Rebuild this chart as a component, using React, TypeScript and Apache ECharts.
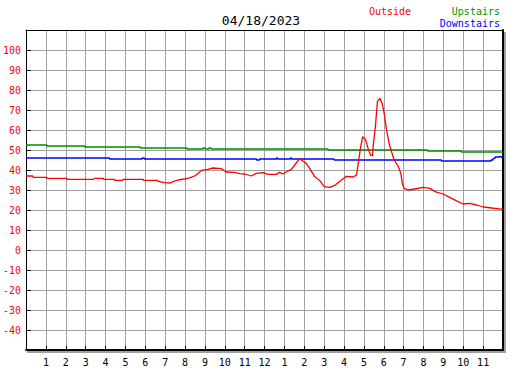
import React, { useEffect, useRef } from "react";
import * as echarts from "echarts";

const TITLE = "04/18/2023";
const HOUR_LABELS = ["1","2","3","4","5","6","7","8","9","10","11","12","1","2","3","4","5","6","7","8","9","10","11"];

const upstairsHours = [0, 1.05, 2.95, 5.75, 8.1, 8.9, 9.0, 9.2, 9.3, 15.2, 20.2, 21.9, 24];
const upstairsTemps = [52.5, 52, 51.5, 51, 50.5, 51, 50.5, 51, 50.5, 50, 49.5, 49, 49];

const downstairsHours = [0, 4.2, 5.85, 5.95, 11.6, 11.75, 12.6, 12.65, 13.3, 13.35, 15.5, 20.9, 23.3, 23.4, 23.5, 23.6, 23.75, 23.9, 24];
const downstairsTemps = [46, 45.5, 46, 45.5, 45, 45.5, 46, 45.5, 46, 45.5, 45, 44.5, 44.5, 45, 45.8, 46.5, 46.8, 46.3, 45.8];

const outsideHours = [0, 0.33, 0.35, 1.05, 1.06, 2.05, 2.06, 3.4, 3.45, 3.9, 3.91, 4.45, 4.46, 4.87, 4.88, 5.9, 5.91, 6.63, 6.64, 6.97, 7.27, 7.39, 7.64, 8.14, 8.48, 8.65, 8.82, 9.15, 9.4, 9.82, 10.08, 10.5, 10.75, 11.0, 11.33, 11.59, 11.92, 12.17, 12.59, 12.76, 12.93, 13.18, 13.35, 13.52, 13.77, 13.85, 14.1, 14.27, 14.52, 14.78, 15.0, 15.28, 15.53, 15.87, 16.12, 16.46, 16.63, 16.74, 16.84, 16.94, 17.08, 17.21, 17.33, 17.43, 17.48, 17.58, 17.68, 17.8, 17.92, 18.02, 18.14, 18.27, 18.39, 18.52, 18.72, 18.86, 18.93, 19.03, 19.23, 19.56, 19.98, 20.32, 20.58, 20.99, 21.32, 21.74, 21.99, 22.33, 22.67, 23.01, 23.43, 24];
const outsideTemps = [37, 37, 36.3, 36.3, 35.8, 35.8, 35.3, 35.3, 35.8, 35.8, 35.3, 35.3, 34.8, 34.8, 35.3, 35.3, 34.8, 34.8, 34.3, 33.7, 33.5, 34.2, 35, 35.8, 37, 38.3, 39.8, 40.3, 41, 40.7, 39, 38.8, 38.2, 38, 37, 38.3, 38.7, 37.8, 37.8, 38.8, 38, 39.5, 40.3, 42.5, 45.8, 45, 43.3, 40.8, 36.7, 34.7, 31.7, 31.3, 32.3, 35, 36.8, 36.5, 37.5, 45, 51.7, 56.7, 55.3, 50.8, 47.5, 47, 53.3, 61.7, 74.2, 75.8, 73.3, 68.3, 60, 53.3, 49.2, 45, 42, 38.3, 33.3, 30.8, 30, 30.5, 31.3, 30.8, 29.2, 28, 26.3, 24.2, 23, 23.3, 22.5, 21.5, 21, 20.3];

const zip = (a: number[], b: number[]) => a.map((x, i) => [x, b[i]]);

const FONT = "DejaVu Sans Mono";

export default function App() {
  const ref = useRef<HTMLDivElement>(null);
  useEffect(() => {
    document.body.style.margin = "0";
    const chart = echarts.init(ref.current!, null, { renderer: "svg" });
    const gridColor = "#a0a0a0";
    chart.setOption({
      animation: false,
      backgroundColor: "#ffffff",
      grid: { left: 25, right: 24, top: 30, bottom: 20 },
      xAxis: [
        {
          type: "value",
          min: 0,
          max: 24,
          interval: 1,
          axisLine: { show: true, onZero: false, lineStyle: { color: "#000", width: 2 } },
          axisTick: { show: true, inside: true, length: 4, lineStyle: { color: "#000" } },
          axisLabel: {
            color: "#000",
            fontFamily: FONT,
            fontSize: 10,
            margin: 7,
            formatter: (v: number) => (v >= 1 && v <= 23 ? HOUR_LABELS[v - 1] : ""),
          },
          splitLine: { show: true, lineStyle: { color: gridColor, width: 1 } },
        },
        {
          type: "value",
          position: "top",
          min: 0,
          max: 24,
          interval: 1,
          axisLine: { show: true, onZero: false, lineStyle: { color: "#000", width: 1 } },
          axisTick: { show: false },
          axisLabel: { show: false },
          splitLine: { show: false },
        },
      ],
      yAxis: [
        {
          type: "value",
          min: -50,
          max: 110,
          interval: 10,
          axisLine: { show: true, onZero: false, lineStyle: { color: "#000", width: 1 } },
          axisTick: { show: true, inside: true, length: 5, lineStyle: { color: "#000" } },
          axisLabel: {
            color: "#ff0000",
            fontFamily: FONT,
            fontSize: 10,
            margin: 5,
            formatter: (v: number) => (v >= -40 && v <= 100 ? String(v) : ""),
          },
          splitLine: { show: true, lineStyle: { color: gridColor, width: 1 } },
        },
        {
          type: "value",
          position: "right",
          min: -50,
          max: 110,
          interval: 10,
          axisLine: { show: true, onZero: false, lineStyle: { color: "#000", width: 2 } },
          axisTick: { show: false },
          axisLabel: { show: false },
          splitLine: { show: false },
        },
      ],
      series: [
        {
          name: "Upstairs",
          type: "line",
          step: "end",
          data: zip(upstairsHours, upstairsTemps),
          showSymbol: false,
          lineStyle: { color: "#008c00", width: 1.3 },
          itemStyle: { color: "#008c00" },
        },
        {
          name: "Downstairs",
          type: "line",
          step: "end",
          data: zip(downstairsHours, downstairsTemps),
          showSymbol: false,
          lineStyle: { color: "#0000ff", width: 1.3 },
          itemStyle: { color: "#0000ff" },
        },
        {
          name: "Outside",
          type: "line",
          data: zip(outsideHours, outsideTemps),
          showSymbol: false,
          lineStyle: { color: "#ff0000", width: 1.3 },
          itemStyle: { color: "#ff0000" },
        },
      ],
      graphic: [
        { type: "rect", left: 504, top: 32, shape: { width: 2, height: 321 }, style: { fill: "#a0a0a0" }, z: 0 },
        { type: "rect", left: 27, top: 351, shape: { width: 479, height: 2 }, style: { fill: "#a0a0a0" }, z: 0 },
        {
          type: "text",
          x: 261,
          y: 20,
          style: { text: TITLE, fill: "#000", font: `13px "${FONT}"`, align: "center", verticalAlign: "middle" },
        },
        {
          type: "text",
          x: 369,
          y: 11,
          style: { text: "Outside", fill: "#ff0000", font: `10px "${FONT}"`, align: "left", verticalAlign: "middle" },
        },
        {
          type: "text",
          x: 500,
          y: 11,
          style: { text: "Upstairs", fill: "#009000", font: `10px "${FONT}"`, align: "right", verticalAlign: "middle" },
        },
        {
          type: "text",
          x: 500,
          y: 23,
          style: { text: "Downstairs", fill: "#0000ff", font: `10px "${FONT}"`, align: "right", verticalAlign: "middle" },
        },
      ],
    });
    return () => chart.dispose();
  }, []);
  return <div ref={ref} style={{ width: 527, height: 370 }} />;
}
